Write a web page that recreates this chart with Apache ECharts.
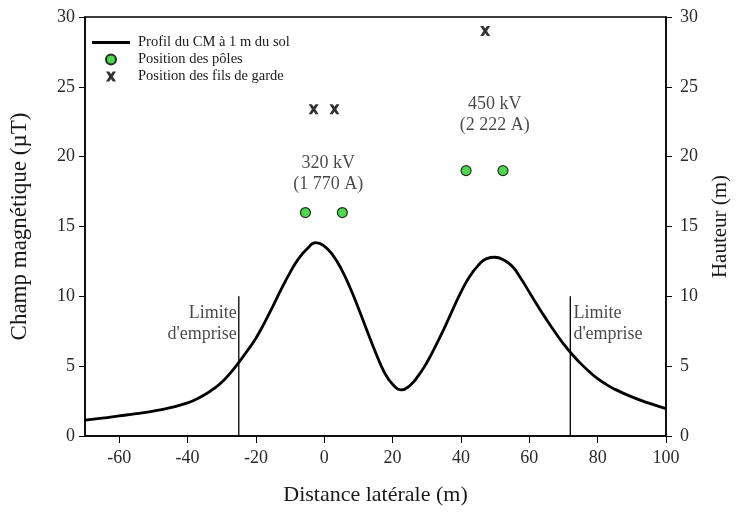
<!DOCTYPE html>
<html>
<head>
<meta charset="utf-8">
<script src="https://cdn.jsdelivr.net/npm/echarts@6/dist/echarts.min.js"></script>
<style>
  html, body { margin: 0; padding: 0; background: #fff; }
  #chart { width: 743px; height: 514px; }
</style>
</head>
<body>
<div id="chart"></div>
<script>
// profil du champ magnétique
const distances = [-70, -65, -60, -55, -50, -45, -40, -37.5, -35, -32.5, -30, -27.5, -25, -22.5, -20, -17.5, -15, -12.5, -10, -7.5, -5, -2.5, 0, 2.5, 5, 7.5, 10, 12.5, 15, 17.5, 20, 22.5, 25, 27.5, 30, 32.5, 35, 37.5, 40, 42.5, 45, 47.5, 50, 52.5, 55, 57.5, 60, 62.5, 65, 67.5, 70, 72.5, 75, 77.5, 80, 82.5, 85, 90, 95, 100];
const champ = [1.14, 1.28, 1.44, 1.6, 1.78, 2.03, 2.37, 2.63, 2.95, 3.35, 3.85, 4.5, 5.27, 6.1, 7.0, 8.1, 9.3, 10.55, 11.7, 12.7, 13.4, 13.85, 13.6, 12.95, 11.95, 10.65, 9.15, 7.55, 6.0, 4.6, 3.7, 3.3, 3.6, 4.3, 5.25, 6.4, 7.65, 9.0, 10.3, 11.4, 12.2, 12.7, 12.8, 12.6, 12.15, 11.3, 10.3, 9.3, 8.35, 7.45, 6.6, 5.85, 5.2, 4.62, 4.1, 3.7, 3.35, 2.8, 2.35, 1.96];

// positions des pôles (x, hauteur)
const polesX = [-5.5, 5.3, 41.5, 52.3];
const polesH = [16, 16, 19, 19];

// fils de garde
const gardeX = [-3.1, 3.0, 47.1];
const gardeH = [23.4, 23.4, 29];

// limites d'emprise
const limites = [-25, 72];
const limiteHaut = 10;

const xTicks = [-60, -40, -20, 0, 20, 40, 60, 80, 100];

// annotations (texte, x, y)
const notes = [
  { text: '320 kV\n(1 770 A)', x: 1.2, y: 18.75, align: 'center' },
  { text: '450 kV\n(2 222 A)', x: 49.9, y: 23.0, align: 'center' },
  { text: 'Limite\nd\'emprise', x: -25.6, y: 8.05, align: 'right' },
  { text: 'Limite\nd\'emprise', x: 72.9, y: 8.05, align: 'left' }
];

const FONT = '"Liberation Serif", "DejaVu Serif", serif';
const TXT = '#1a1a1a';
const chart = echarts.init(document.getElementById('chart'));

const crossPath = 'path://M0,0 L3.2,0 L5,2.6 L6.8,0 L10,0 L6.8,5 L10,10 L6.8,10 L5,7.4 L3.2,10 L0,10 L3.2,5 Z';

const series = [
  {
    name: 'Profil du CM à 1 m du sol',
    type: 'line',
    smooth: true,
    symbol: 'none',
    lineStyle: { color: '#000', width: 2.8 },
    itemStyle: { color: '#000' },
    data: distances.map((d, i) => [d, champ[i]]),
    z: 3
  },
  {
    name: 'Position des pôles',
    type: 'scatter',
    yAxisIndex: 1,
    symbol: 'circle',
    symbolSize: 10,
    itemStyle: { color: '#22cc22', borderColor: '#000', borderWidth: 1.2 },
    data: polesX.map((d, i) => [d, polesH[i]]),
    z: 4
  },
  {
    name: 'Position des fils de garde',
    type: 'scatter',
    yAxisIndex: 1,
    symbol: crossPath,
    symbolSize: 10,
    itemStyle: { color: '#000' },
    data: gardeX.map((d, i) => [d, gardeH[i]]),
    z: 4
  }
];

limites.forEach(x => {
  series.push({
    type: 'line',
    symbol: 'none',
    silent: true,
    lineStyle: { color: '#000', width: 1.3 },
    data: [[x, 0], [x, limiteHaut]],
    z: 2
  });
});

series.push({
  type: 'scatter',
  symbolSize: 0,
  silent: true,
  data: notes.map(n => ({
    value: [n.x, n.y],
    label: {
      show: true,
      position: 'inside',
      formatter: n.text,
      align: n.align,
      verticalAlign: 'middle',
      fontFamily: FONT,
      fontSize: 18,
      lineHeight: 21,
      color: TXT
    }
  }))
});

chart.setOption({
  animation: false,
  backgroundColor: '#fff',
  textStyle: { fontFamily: FONT },
  legend: {
    data: [
      { name: 'Profil du CM à 1 m du sol', icon: 'path://M0,0H38V2.8H0Z' },
      { name: 'Position des pôles' },
      { name: 'Position des fils de garde' }
    ],
    orient: 'vertical',
    left: 87,
    top: 30,
    itemWidth: 38,
    itemHeight: 10,
    itemGap: 2,
    textStyle: { fontFamily: FONT, fontSize: 14.5, color: TXT, padding: [0, 0, 0, 3] }
  },
  grid: {
    left: 84, right: 77, top: 17, bottom: 78,
    show: true, borderColor: '#000', borderWidth: 1.5
  },
  xAxis: {
    type: 'value',
    min: -70,
    max: 100,
    name: 'Distance latérale (m)',
    nameLocation: 'middle',
    nameGap: 48,
    nameTextStyle: { fontFamily: FONT, fontSize: 22, color: TXT },
    axisLine: { onZero: false, lineStyle: { color: '#000', width: 1.5 } },
    axisTick: { customValues: xTicks, length: 7, lineStyle: { color: '#000' } },
    axisLabel: { customValues: xTicks, margin: 13, fontFamily: FONT, fontSize: 18, color: '#2a2a2a' },
    splitLine: { show: false }
  },
  yAxis: [
    {
      type: 'value',
      min: 0, max: 30, interval: 5,
      name: 'Champ magnétique (µT)',
      nameLocation: 'middle',
      nameGap: 54,
      nameTextStyle: { fontFamily: FONT, fontSize: 23, color: TXT },
      axisLine: { show: true, onZero: false, lineStyle: { color: '#000', width: 1.5 } },
      axisTick: { show: true, length: 6, lineStyle: { color: '#000' } },
      axisLabel: { margin: 10, fontFamily: FONT, fontSize: 18, color: '#2a2a2a' },
      splitLine: { show: false }
    },
    {
      type: 'value',
      position: 'right',
      min: 0, max: 30, interval: 5,
      name: 'Hauteur (m)',
      nameLocation: 'middle',
      nameGap: 44,
      nameTextStyle: { fontFamily: FONT, fontSize: 21, color: TXT },
      axisLine: { show: true, onZero: false, lineStyle: { color: '#000', width: 1.5 } },
      axisTick: { show: true, length: 6, lineStyle: { color: '#000' } },
      axisLabel: { margin: 14, fontFamily: FONT, fontSize: 18, color: '#2a2a2a' },
      splitLine: { show: false }
    }
  ],
  series
});
</script>
</body>
</html>
